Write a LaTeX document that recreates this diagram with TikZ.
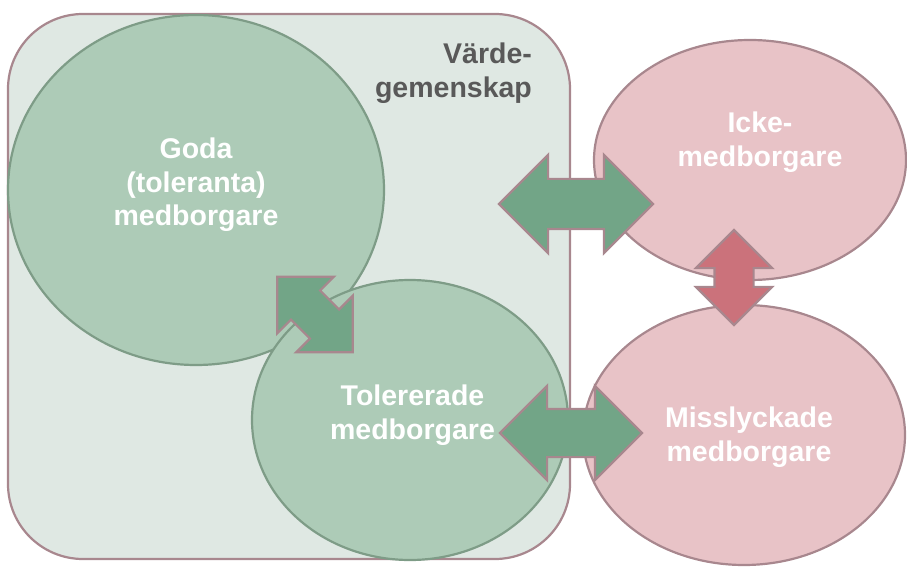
\documentclass[tikz,border=0pt]{standalone}
\usepackage{fontspec}
\setmainfont{Liberation Sans}
\usepackage{tikz}
\usetikzlibrary{shapes.geometric,shapes.arrows,positioning}
\definecolor{rimcol}{HTML}{A8878E}
\definecolor{gemfill}{HTML}{DFE8E3}
\definecolor{gronfill}{HTML}{ADCBB7}
\definecolor{gronrim}{HTML}{7E9C87}
\definecolor{rosafill}{HTML}{E8C3C7}
\definecolor{pilgron}{HTML}{72A587}
\definecolor{pilrod}{HTML}{CB727B}
\definecolor{textgra}{HTML}{595959}

\begin{document}
\begin{tikzpicture}[x=1pt,y=-1pt,line width=2.2pt,
	gron/.style={ellipse,draw=gronrim,fill=gronfill,inner sep=0pt},
	rosa/.style={ellipse,draw=rimcol,fill=rosafill,inner sep=0pt},
	etikett/.style={text=white,font=\bfseries\fontsize{28.5}{33.5}\selectfont,align=center,inner sep=0pt},
	pil/.style={double arrow,double arrow head extend=#1,draw=rimcol,fill=pilgron,inner xsep=0pt,inner ysep=#1}]
			\useasboundingbox (0,0) rectangle (907,577);
			\node[draw=rimcol,fill=gemfill,rounded corners=75pt,minimum width=562pt,minimum height=545pt] (vg) at (289,286.5) {};

			\node[gron,minimum width=376pt,minimum height=350pt] (goda) at (196,190) {};
			\node[gron,minimum width=316pt,minimum height=280pt] (toler) at (410,420) {};
			\node[rosa,minimum width=312pt,minimum height=240pt] (icke) at (750,160) {};
			\node[rosa,minimum width=322pt,minimum height=260pt] (miss) at (744,435) {};

			\node[pil=24pt,minimum height=154pt] (p1) at (576,204) {};
			\node[pil=23pt,minimum height=142pt] (p2) at (571,433) {};
			\node[pil=19.5pt,minimum height=107pt,rotate=-45] (p3) at (315,314.5) {};
			\node[pil=18.5pt,fill=pilrod,minimum height=95pt,rotate=90] (p4) at (734,277.5) {};

			\node[etikett] (goda-txt) at (196,185) {Goda\\(toleranta)\\medborgare};
			\node[etikett] (toler-txt) at (412.5,415) {Tolererade\\medborgare};
			\node[etikett] (icke-txt) at (760,142) {Icke-\\medborgare};
			\node[etikett] (miss-txt) at (749,437) {Misslyckade\\medborgare};
			\node[etikett,text=textgra,align=right,anchor=east] (vg-txt) at (533,73) {Värde-\\gemenskap};
\end{tikzpicture}
\end{document}
